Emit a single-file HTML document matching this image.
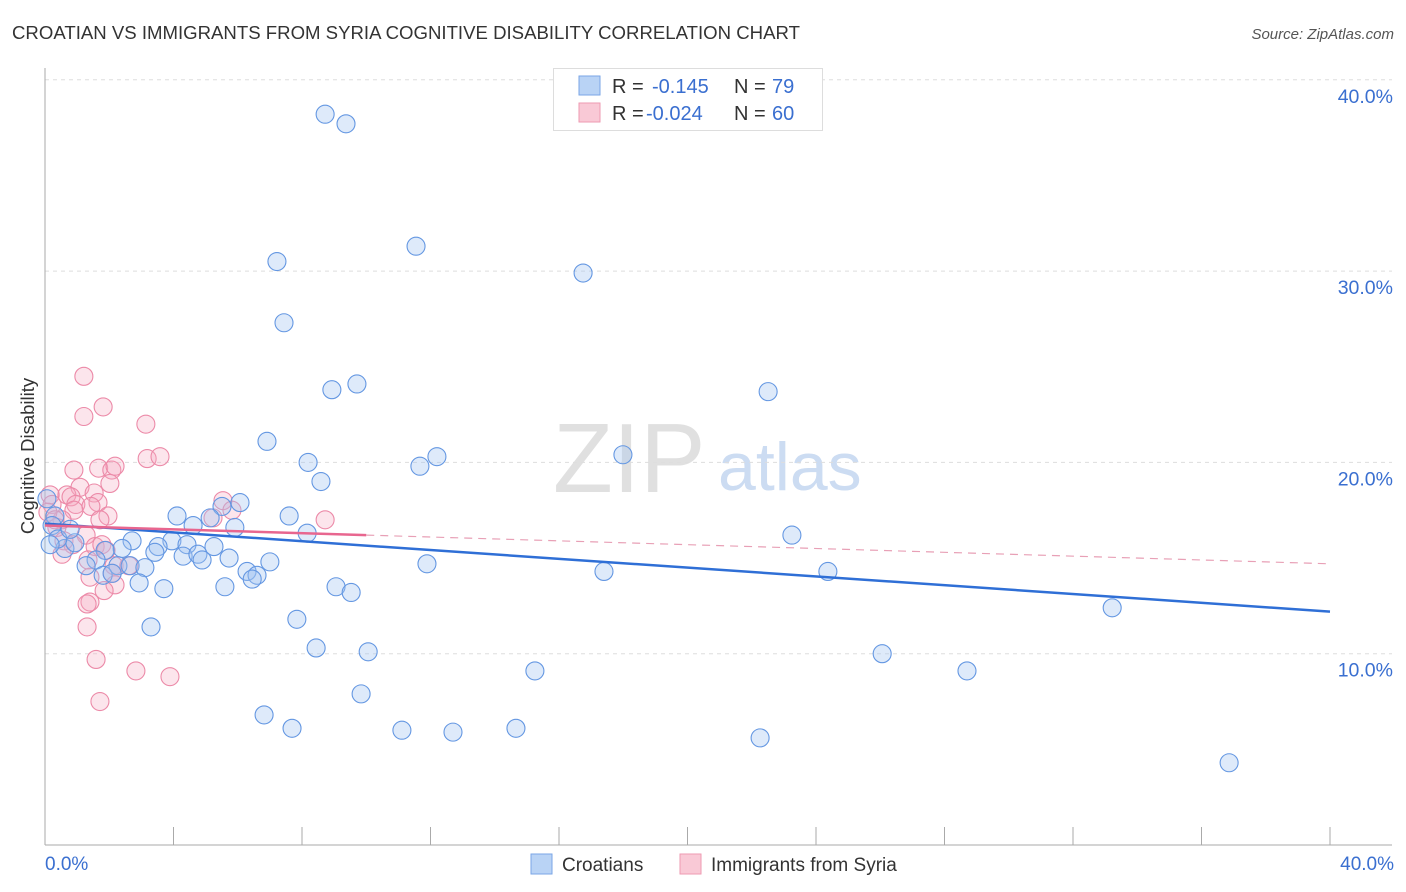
<!DOCTYPE html>
<html><head><meta charset="utf-8"><style>
body{margin:0;background:#fff;font-family:"Liberation Sans",sans-serif;}
#wrap{position:relative;width:1406px;height:892px;overflow:hidden;}
svg text{font-family:"Liberation Sans",sans-serif;}
</style></head><body>
<div id="wrap">
<svg id="c" width="1406" height="892">
<text x="12" y="39" font-size="18.6" fill="#333">CROATIAN VS IMMIGRANTS FROM SYRIA COGNITIVE DISABILITY CORRELATION CHART</text>
<text x="1394" y="39" font-size="15" fill="#555" font-style="italic" text-anchor="end">Source: ZipAtlas.com</text>
<text transform="translate(34,456) rotate(-90)" font-size="18.5" fill="#333" text-anchor="middle">Cognitive Disability</text>
<g>
<text x="553" y="492" font-size="98" fill="#e0e0e0" font-family="Liberation Serif">ZIP</text>
<text x="718" y="490" font-size="68" fill="#ccdcf2">atlas</text>
</g>
<g id="grid"></g><g id="axes"></g><g id="pts"></g><g id="trend"></g>
<g>
<rect x="553.5" y="68.5" width="269" height="62" fill="#fff" stroke="#ddd"/>
<rect x="579" y="76" width="21" height="19" fill="#b9d3f5" stroke="#7aa6e6"/>
<rect x="579" y="103" width="21" height="19" fill="#f9c9d6" stroke="#ee9ab2"/>
<text x="612" y="93" font-size="20" fill="#333">R = <tspan fill="#3a6fd0" x="652">-0.145</tspan></text>
<text x="734" y="93" font-size="20" fill="#333">N = <tspan fill="#3a6fd0" x="772">79</tspan></text>
<text x="612" y="120" font-size="20" fill="#333">R = <tspan fill="#3a6fd0" x="646">-0.024</tspan></text>
<text x="734" y="120" font-size="20" fill="#333">N = <tspan fill="#3a6fd0" x="772">60</tspan></text>
</g>
<g>
<rect x="531" y="854" width="21" height="20" fill="#b9d3f5" stroke="#7aa6e6"/>
<text x="562" y="871" font-size="19" fill="#333">Croatians</text>
<rect x="680" y="854" width="21" height="20" fill="#f9c9d6" stroke="#ee9ab2"/>
<text x="711" y="871" font-size="19" fill="#333">Immigrants from Syria</text>
</g>
</svg>
</div>
<script>
const blueX=[8.72,9.37,11.55,7.22,16.75,7.44,8.93,9.71,22.51,6.91,12.20,17.99,8.19,11.67,8.59,6.07,5.51,4.11,5.14,7.60,5.91,4.61,8.16,23.25,2.71,3.95,4.42,5.26,3.52,2.40,1.87,0.62,0.93,3.42,4.30,4.76,5.73,4.89,1.59,7.00,11.89,1.28,2.27,2.65,3.11,6.29,6.60,17.40,24.37,1.81,2.09,6.45,2.93,3.70,5.60,9.06,9.53,33.22,3.30,7.84,8.44,10.06,26.06,15.25,28.70,9.84,6.82,7.69,11.11,12.70,14.66,22.26,36.86,0.06,0.31,0.22,0.40,0.78,0.16];
const blueY=[38.2,37.7,31.3,30.5,29.9,27.3,23.8,24.1,23.7,21.1,20.3,20.4,20.0,19.8,19.0,17.9,17.7,17.2,17.1,17.2,16.6,16.7,16.3,16.2,15.9,15.9,15.7,15.6,15.6,15.5,15.4,15.5,15.8,15.3,15.1,15.2,15.0,14.9,14.9,14.8,14.7,14.6,14.6,14.6,14.5,14.3,14.1,14.3,14.3,14.1,14.2,13.9,13.7,13.4,13.5,13.5,13.2,12.4,11.4,11.8,10.3,10.1,10.0,9.1,9.1,7.9,6.8,6.1,6.0,5.9,6.1,5.6,4.3,18.1,17.2,16.7,16.0,16.5,15.7];
const pinkX=[1.21,1.81,1.21,3.14,3.18,3.58,0.90,1.67,2.08,2.18,2.02,1.09,0.68,0.81,1.53,1.65,5.54,0.96,1.43,0.90,5.82,5.23,1.96,8.72,0.53,1.71,0.37,1.28,0.59,0.87,1.56,1.77,1.90,0.53,1.34,2.15,2.61,1.40,2.09,2.18,1.84,1.40,1.31,1.31,1.59,2.83,3.89,1.71,0.16,0.22,0.09,0.31];
const pinkY=[24.5,22.9,22.4,22.0,20.2,20.3,19.6,19.7,19.6,19.8,18.9,18.7,18.3,18.2,18.4,17.9,18.0,17.8,17.7,17.5,17.5,17.1,17.2,17.0,17.0,17.0,16.6,16.2,15.9,15.7,15.6,15.7,15.4,15.2,14.9,14.6,14.6,14.0,14.2,13.6,13.3,12.7,12.6,11.4,9.7,9.1,8.8,7.5,18.3,17.8,17.4,17.0];
const blueTrend=[16.8,12.2];
const pinkTrend=[16.7,14.7];
const pinkSolidEnd=10;
const yTicks=[10,20,30,40];
const xTickVals=[0,4,8,12,16,20,24,28,32,36,40];

const X0=45,X1=1330,Y0=845,PX=(X1-X0)/40,PY=191.3/10;
const sx=v=>X0+v*PX, sy=v=>Y0-v*PY;
const NS='http://www.w3.org/2000/svg';
function mk(tag,attrs,parent){const e=document.createElementNS(NS,tag);for(const k in attrs)e.setAttribute(k,attrs[k]);document.getElementById(parent).appendChild(e);return e;}

yTicks.forEach(t=>{
  const l=mk('line',{x1:X0,x2:1392,y1:sy(t),y2:sy(t),stroke:'#ddd','stroke-dasharray':'4,4'},'grid');
  
  
  const tx=mk('text',{x:1393,y:sy(t)+23,'font-size':19.5,fill:'#3a6fd0','text-anchor':'end'},'grid');
  tx.textContent=t.toFixed(1)+'%';
  
  
});
const ax=mk('line',{x1:X0,x2:X0,y1:68,y2:Y0,stroke:'#aaa'},'axes');


const bx=mk('line',{x1:X0,x2:1392,y1:Y0,y2:Y0,stroke:'#aaa'},'axes');


xTickVals.forEach(t=>{
  const l=mk('line',{x1:sx(t),x2:sx(t),y1:827,y2:Y0,stroke:'#aaa'},'axes');
  
  
});
[[0,'0.0%',45,'start'],[40,'40.0%',1394,'end']].forEach(a=>{
  const t=mk('text',{x:a[2],y:870,'font-size':19,fill:'#3a6fd0','text-anchor':a[3]},'axes');
  t.textContent=a[1];
  
  
});
pinkX.forEach((x,i)=>{
  const c=mk('circle',{cx:sx(x),cy:sy(pinkY[i]),r:9,fill:'rgba(246,170,192,0.3)',stroke:'#ec8aa8','stroke-width':1.1},'pts');
  
  
});
blueX.forEach((x,i)=>{
  const c=mk('circle',{cx:sx(x),cy:sy(blueY[i]),r:9,fill:'rgba(160,196,240,0.35)',stroke:'#6497e2','stroke-width':1.1},'pts');
  
  
});
const bt=mk('line',{x1:sx(0),y1:sy(blueTrend[0]),x2:sx(40),y2:sy(blueTrend[1]),stroke:'#2f6fd6','stroke-width':2.5},'trend');


const pm=pinkTrend[0]+(pinkTrend[1]-pinkTrend[0])*pinkSolidEnd/40;
const ps=mk('line',{x1:sx(0),y1:sy(pinkTrend[0]),x2:sx(pinkSolidEnd),y2:sy(pm),stroke:'#e8668f','stroke-width':2.5},'trend');


const pd=mk('line',{x1:sx(pinkSolidEnd),y1:sy(pm),x2:sx(40),y2:sy(pinkTrend[1]),stroke:'#e8a0b6','stroke-width':1.2,'stroke-dasharray':'8,6'},'trend');


</script>
</body></html>
